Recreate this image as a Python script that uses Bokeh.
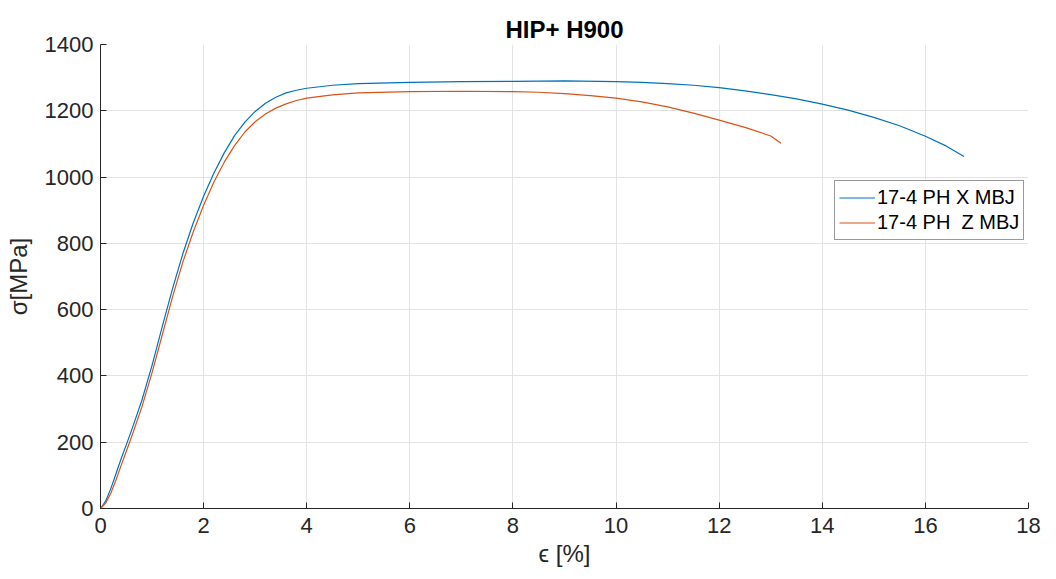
from bokeh.plotting import figure
from bokeh.models import Range1d, FixedTicker, Legend, LegendItem
from bokeh.embed import file_html
from bokeh.resources import INLINE

# Data
strain_x = [0, 0.1, 0.2, 0.3, 0.4, 0.5, 0.6, 0.8, 1.0, 1.2, 1.4, 1.6, 1.8, 2.0, 2.2, 2.4, 2.6, 2.8,
            3.0, 3.2, 3.4, 3.6, 3.8, 4.0, 4.5, 5, 6, 7, 8, 9, 10, 10.5, 11, 11.5, 12, 12.5, 13,
            13.5, 14, 14.5, 15, 15.5, 16, 16.4, 16.75]
stress_x = [0, 22, 60, 105, 150, 192, 235, 325, 432, 550, 665, 770, 862, 942, 1012, 1073, 1125, 1166,
            1198, 1223, 1241, 1254, 1262, 1268, 1277, 1282, 1286, 1288, 1289, 1290, 1288, 1286, 1282,
            1277, 1270, 1260, 1249, 1236, 1220, 1202, 1180, 1155, 1123, 1094, 1062]

strain_z = [0, 0.1, 0.2, 0.3, 0.4, 0.5, 0.6, 0.8, 1.0, 1.2, 1.4, 1.6, 1.8, 2.0, 2.2, 2.4, 2.6, 2.8,
            3.0, 3.2, 3.4, 3.6, 3.8, 4.0, 4.5, 5, 6, 7, 8, 8.5, 9, 9.5, 10, 10.5, 11, 11.5, 12,
            12.5, 13, 13.2]
stress_z = [0, 16, 46, 86, 130, 172, 215, 305, 410, 525, 640, 745, 835, 915, 985, 1045, 1095, 1136,
            1167, 1190, 1208, 1221, 1231, 1238, 1248, 1254, 1258, 1259, 1258, 1256, 1252, 1246, 1238,
            1227, 1212, 1193, 1172, 1150, 1124, 1102]

labels = ["17-4 PH X MBJ", "17-4 PH  Z MBJ"]
x_ticks = [0, 2, 4, 6, 8, 10, 12, 14, 16, 18]
y_ticks = [0, 200, 400, 600, 800, 1000, 1200, 1400]

FONT = "Liberation Sans"
DARK = "#262626"

p = figure(width=1056, height=579, output_backend="svg", toolbar_location=None,
           x_range=Range1d(0, 18), y_range=Range1d(0, 1400),
           min_border_left=100, min_border_right=28, min_border_top=44, min_border_bottom=71,
           title="HIP+ H900")
p.outline_line_color = None
p.background_fill_color = "white"
p.border_fill_color = "white"

p.title.align = "center"
p.title.text_font = FONT
p.title.text_font_size = "24px"
p.title.text_font_style = "bold"
p.title.text_color = "black"
p.title.standoff = 4

for ax, ticks in ((p.xaxis[0], x_ticks), (p.yaxis[0], y_ticks)):
    ax.ticker = FixedTicker(ticks=ticks)
    ax.axis_line_color = DARK
    ax.major_tick_line_color = DARK
    ax.major_tick_in = 6
    ax.major_tick_out = 0
    ax.minor_tick_line_color = None
    ax.major_label_text_font = FONT
    ax.major_label_text_font_size = "22px"
    ax.major_label_text_color = DARK
    ax.axis_label_text_font = FONT
    ax.axis_label_text_font_size = "24px"
    ax.axis_label_text_font_style = "normal"
    ax.axis_label_text_color = DARK

p.xaxis.axis_label = "ϵ [%]"
p.yaxis.axis_label = "σ[MPa]"
p.xaxis.major_label_standoff = 9
p.yaxis.major_label_standoff = 7
p.xaxis.axis_label_standoff = 4
p.yaxis.axis_label_standoff = 10

p.grid.grid_line_color = "#e3e3e3"
p.grid.grid_line_width = 1

r1 = p.line(strain_x, stress_x, line_color="#0072BD", line_width=1.2)
r2 = p.line(strain_z, stress_z, line_color="#D95319", line_width=1.2)

legend = Legend(items=[LegendItem(label=labels[0], renderers=[r1]),
                       LegendItem(label=labels[1], renderers=[r2])],
                location=(734, 268))
legend.label_text_font = FONT
legend.label_text_font_size = "20px"
legend.label_text_color = "black"
legend.glyph_width = 36
legend.label_standoff = 2
legend.spacing = 0
legend.padding = 4
legend.margin = 0
legend.label_height = 25
legend.glyph_height = 25
legend.border_line_color = "#333333"
legend.border_line_width = 1
legend.background_fill_alpha = 1
p.add_layout(legend, "center")

open("out.html", "w").write(file_html(p, INLINE))
